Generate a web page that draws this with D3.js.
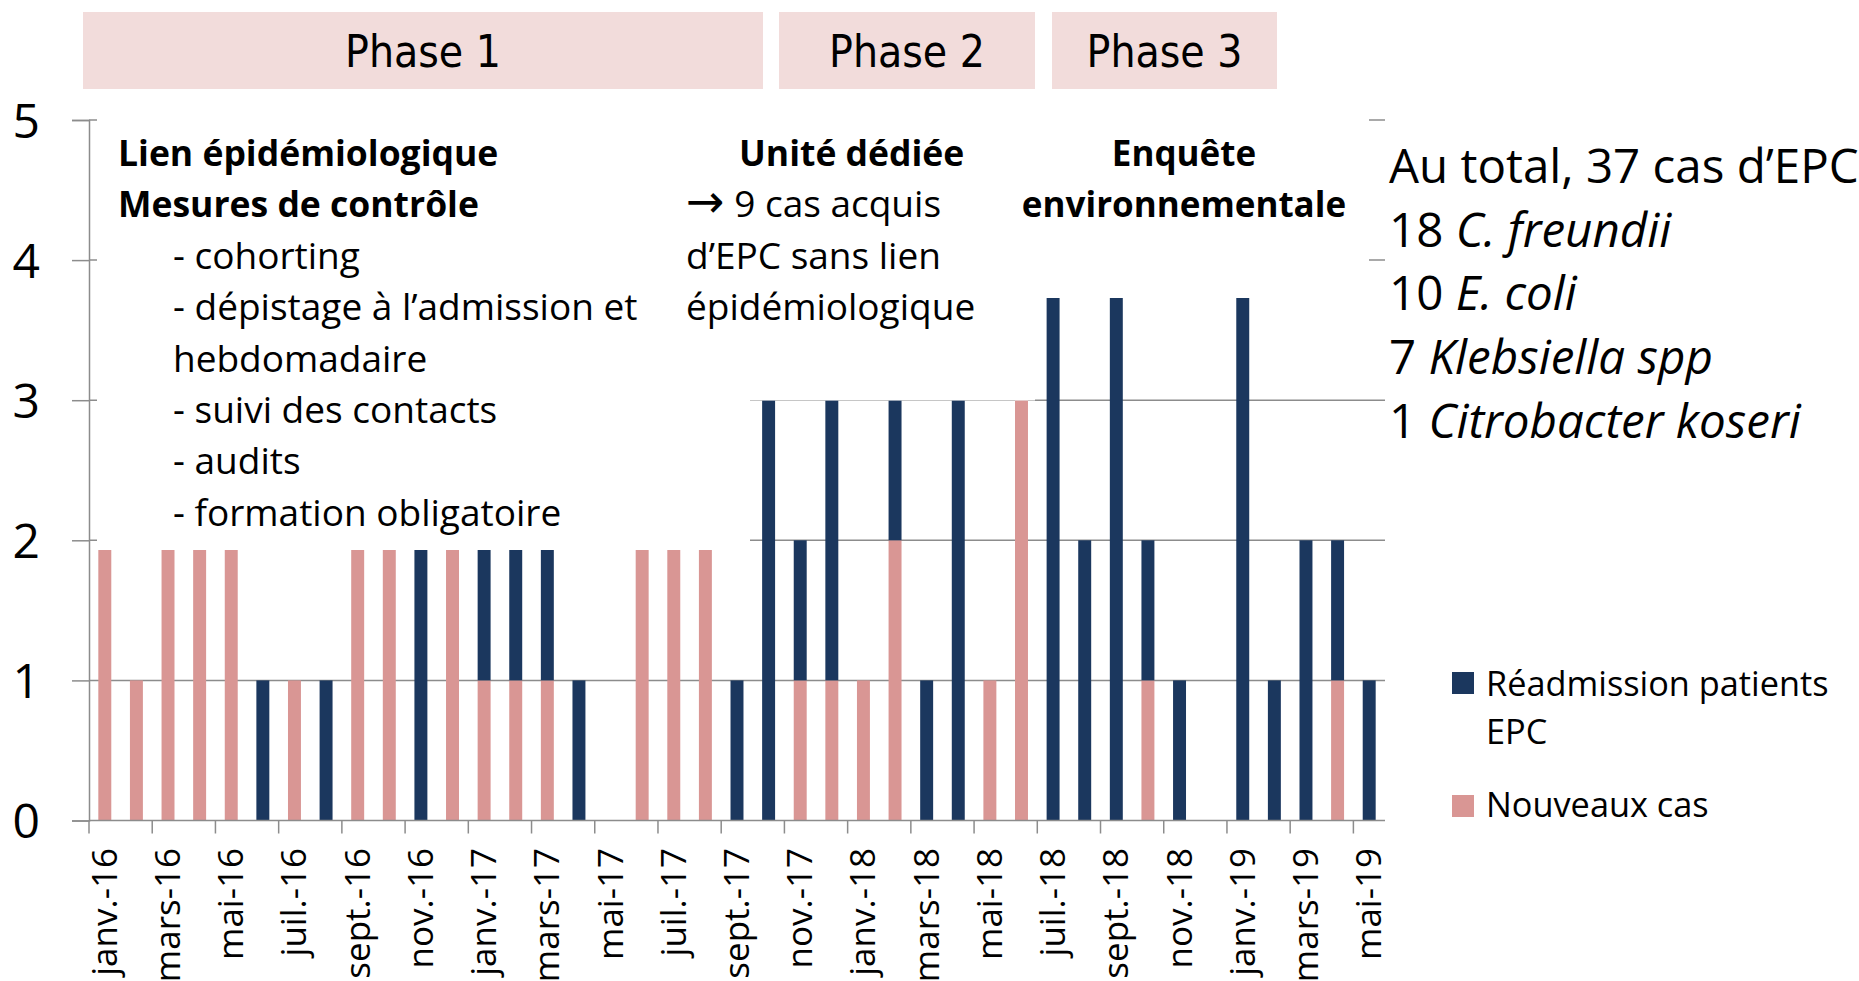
<!DOCTYPE html>
<html>
<head>
<meta charset="utf-8">
<script src="https://cdn.jsdelivr.net/npm/d3@7"></script>
<style>
  body { margin: 0; background: #fff; }
  svg { display: block; }
  .txt { font-family: "Open Sans", "DejaVu Sans", sans-serif; fill: #000; }
  .narrow { font-family: "Liberation Sans Narrow", "DejaVu Sans Condensed", "Roboto", sans-serif; font-stretch: condensed; }
</style>
</head>
<body>
<svg width="1859" height="981"></svg>
<script>
// mois (un par barre) et valeurs
const months = [
  "janv.-16", "févr.-16", "mars-16", "avr.-16", "mai-16", "juin-16", "juil.-16", "août-16", "sept.-16", "oct.-16", "nov.-16", "déc.-16",
  "janv.-17", "févr.-17", "mars-17", "avr.-17", "mai-17", "juin-17", "juil.-17", "août-17", "sept.-17", "oct.-17", "nov.-17", "déc.-17",
  "janv.-18", "févr.-18", "mars-18", "avr.-18", "mai-18", "juin-18", "juil.-18", "août-18", "sept.-18", "oct.-18", "nov.-18", "déc.-18",
  "janv.-19", "févr.-19", "mars-19", "avr.-19", "mai-19"
];
const nouveauxCas = [2, 1, 2, 2, 2, 0, 1, 0, 2, 2, 0, 2, 1, 1, 1, 0, 0, 2, 2, 2, 0, 0, 1, 1, 1, 2, 0, 0, 1, 3, 0, 0, 0, 1, 0, 0, 0, 0, 0, 1, 0];
const readmission = [0, 0, 0, 0, 0, 1, 0, 1, 0, 0, 2, 0, 1, 1, 1, 1, 0, 0, 0, 0, 1, 3, 1, 2, 0, 1, 1, 3, 0, 0, 4, 2, 4, 1, 1, 0, 4, 1, 2, 1, 1];
const yTicks = [0, 1, 2, 3, 4, 5];
const phases = ["Phase 1", "Phase 2", "Phase 3"];
const seriesNames = ["Réadmission patients EPC", "Nouveaux cas"];

const colNew = "#D99694";
const colReadm = "#1B375E";
const gridCol = "#8C8C8C";

const svg = d3.select("svg");

// echelles
const x = d3.scaleBand()
    .domain(months)
    .range([89, 1385])
    .paddingInner(0.59)
    .paddingOuter(0.295);
const y = d3.scaleLinear().domain([0, 5]).range([820.5, 120]);
const step = x.step();

// bandeaux des phases
const phaseBoxes = [[83, 763], [779, 1035], [1052, 1277]];
svg.selectAll(".phase")
    .data(phases)
    .join("g")
    .each(function(d, i) {
        const g = d3.select(this);
        const [a, b] = phaseBoxes[i];
        g.append("rect").attr("x", a).attr("y", 12).attr("width", b - a).attr("height", 77).attr("fill", "#F2DCDB");
        g.append("text").attr("class", "narrow").attr("x", (a + b) / 2).attr("y", 67)
            .attr("text-anchor", "middle").attr("font-size", 44).text(d);
    });

// grille horizontale
svg.append("g").selectAll("line")
    .data(yTicks.slice(1))
    .join("line")
    .attr("x1", x.range()[0]).attr("x2", x.range()[1])
    .attr("y1", d => y(d)).attr("y2", d => y(d))
    .attr("stroke", gridCol).attr("stroke-width", 1.5);

// axe Y
const yAxis = svg.append("g")
    .attr("transform", `translate(${x.range()[0]},0)`)
    .call(d3.axisLeft(y).tickValues(yTicks).tickSize(17).tickPadding(32).tickFormat(d3.format("d")));
yAxis.select(".domain").attr("stroke", gridCol).attr("stroke-width", 1.5);
yAxis.selectAll(".tick line").attr("stroke", gridCol).attr("stroke-width", 1.5);
yAxis.selectAll(".tick text")
    .attr("class", "txt")
    .attr("font-size", 48)
    .attr("dy", "0.36em");

// barres empilees
const table = months.map((m, i) => ({ month: m, nouveaux: nouveauxCas[i], readm: readmission[i] }));
const stack = d3.stack().keys(["nouveaux", "readm"])(table);
const colors = { nouveaux: colNew, readm: colReadm };

svg.append("g").selectAll("g")
    .data(stack)
    .join("g")
    .attr("fill", s => colors[s.key])
    .selectAll("rect")
    .data(s => s.filter(d => d[1] > d[0]))
    .join("rect")
    .attr("x", d => x(d.data.month))
    .attr("width", x.bandwidth())
    .attr("y", d => y(d[1]))
    .attr("height", d => y(d[0]) - y(d[1]));

// zones de texte (fond blanc, posees par-dessus le graphique)
const boxes = [[97, 95, 750, 550], [750, 95, 1035, 400.5], [1035, 95, 1369, 298]];
svg.append("g").selectAll("rect")
    .data(boxes)
    .join("rect")
    .attr("x", d => d[0]).attr("y", d => d[1])
    .attr("width", d => d[2] - d[0]).attr("height", d => d[3] - d[1])
    .attr("fill", "#fff");

// axe X
const xAxisG = svg.append("g");
xAxisG.append("line")
    .attr("x1", x.range()[0]).attr("x2", x.range()[1])
    .attr("y1", y(0)).attr("y2", y(0))
    .attr("stroke", gridCol).attr("stroke-width", 1.5);
const labelled = months.filter((m, i) => i % 2 === 0);
xAxisG.selectAll(".tk")
    .data(labelled)
    .join("line")
    .attr("x1", d => x(d) - (step - x.bandwidth()) / 2)
    .attr("x2", d => x(d) - (step - x.bandwidth()) / 2)
    .attr("y1", y(0)).attr("y2", y(0) + 13)
    .attr("stroke", gridCol).attr("stroke-width", 1.5);
xAxisG.selectAll(".lbl")
    .data(labelled)
    .join("text")
    .attr("class", "txt")
    .attr("font-size", 35)
    .attr("text-anchor", "end")
    .attr("transform", d => `translate(${x(d) + x.bandwidth() / 2 + 12},848) rotate(-90)`)
    .text(d => d);

// annotations
function lines(data, x0, y0, dy, size) {
    const t = svg.append("text").attr("class", "txt").attr("font-size", size);
    data.forEach((l, i) => {
        const line = t.append("tspan").attr("x", l.x != null ? l.x : x0).attr("y", y0 + i * dy);
        if (l.anchor) line.attr("text-anchor", l.anchor);
        (l.parts || [{ t: l.t }]).forEach(p => {
            const s = line.append("tspan").text(p.t);
            if (p.i) s.attr("font-style", "italic");
            if (p.size) s.attr("font-size", p.size);
        });
        if (l.b) line.attr("font-weight", "bold");
        if (l.size) line.attr("font-size", l.size);
    });
    return t;
}

lines([
    { t: "Lien épidémiologique", b: true, size: 35.5 },
    { t: "Mesures de contrôle", b: true, size: 35.5 },
    { t: "- cohorting", x: 173 },
    { t: "- dépistage à l’admission et", x: 173 },
    { t: "hebdomadaire", x: 173 },
    { t: "- suivi des contacts", x: 173 },
    { t: "- audits", x: 173 },
    { t: "- formation obligatoire", x: 173 }
], 118, 166, 51.4, 37);

lines([
    { t: "Unité dédiée", b: true, x: 739, size: 35.5 },
    { parts: [{ t: "→", size: 46 }, { t: " 9 cas acquis" }] },
    { t: "d’EPC sans lien" },
    { t: "épidémiologique" }
], 686, 166, 51.4, 37);

lines([
    { t: "Enquête", b: true, anchor: "middle" },
    { t: "environnementale", b: true, anchor: "middle" }
], 1184, 166, 51.4, 35);

lines([
    { t: "Au total, 37 cas d’EPC" },
    { parts: [{ t: "18 " }, { t: "C. freundii", i: true }] },
    { parts: [{ t: "10 " }, { t: "E. coli", i: true }] },
    { parts: [{ t: "7 " }, { t: "Klebsiella spp", i: true }] },
    { parts: [{ t: "1 " }, { t: "Citrobacter koseri", i: true }] }
], 1389, 183, 63.7, 47.5);

// legende
const legend = svg.append("g");
const legendCols = [colReadm, colNew];
const legendY = [672, 795];
legend.selectAll("rect")
    .data(seriesNames)
    .join("rect")
    .attr("x", 1452).attr("y", (d, i) => legendY[i])
    .attr("width", 22).attr("height", 22)
    .attr("fill", (d, i) => legendCols[i]);
lines([{ t: "Réadmission patients" }, { t: "EPC" }], 1486, 696, 48, 34.3);
lines([{ t: seriesNames[1] }], 1486, 817, 48, 34.3);
</script>
</body>
</html>
